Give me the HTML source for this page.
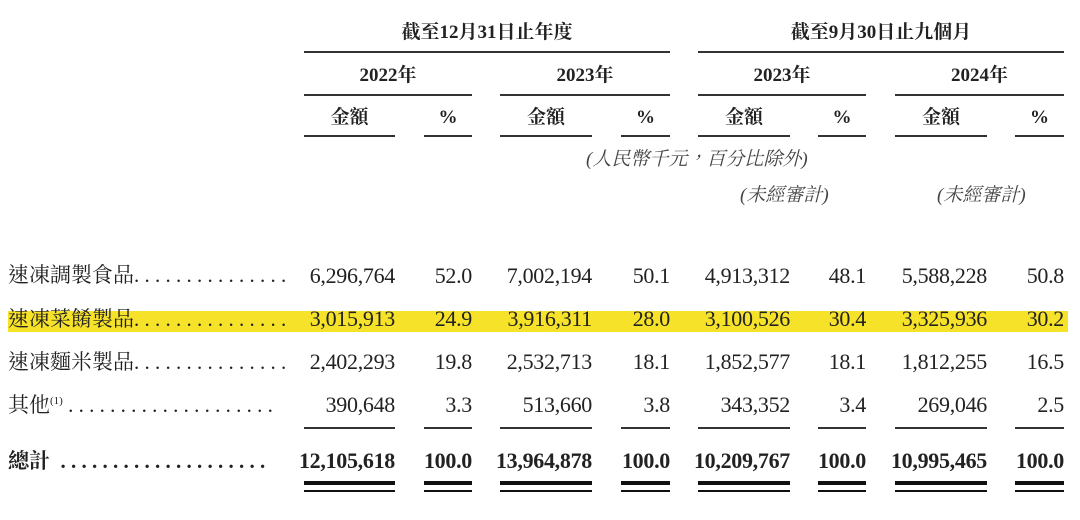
<!DOCTYPE html><html><head><meta charset="utf-8"><style>
body{margin:0;width:1080px;height:520px;background:#fff;position:relative;overflow:hidden;font-family:"Liberation Serif","Noto Serif CJK SC",serif;color:#222}
.t{position:absolute;white-space:nowrap;line-height:1}
.r{text-align:right}.c{text-align:center}
.l{position:absolute;background:#333;height:1.5px}
.b{font-weight:bold}
.h{font-family:"Liberation Serif","Noto Serif CJK TC",serif;font-size:19px}
.d{font-size:22px;letter-spacing:-0.3px}
.lab{font-size:21px;font-family:"Liberation Serif","Noto Serif CJK TC",serif}
</style></head><body>
<div style="position:absolute;left:8px;top:311px;width:1060px;height:21px;background:#f7e22a"></div>
<div class="t c h b" style="left:304px;width:366px;top:23px">截至12月31日止年度</div>
<div class="t c h b" style="left:698px;width:366px;top:23px">截至9月30日止九個月</div>
<div class="l" style="left:304px;width:366px;top:51px"></div>
<div class="l" style="left:698px;width:366px;top:51px"></div>
<div class="t c h b" style="left:304px;width:168px;top:66px">2022年</div>
<div class="t c h b" style="left:500px;width:170px;top:66px">2023年</div>
<div class="t c h b" style="left:698px;width:168px;top:66px">2023年</div>
<div class="t c h b" style="left:895px;width:169px;top:66px">2024年</div>
<div class="l" style="left:304px;width:168px;top:94px"></div>
<div class="l" style="left:500px;width:170px;top:94px"></div>
<div class="l" style="left:698px;width:168px;top:94px"></div>
<div class="l" style="left:895px;width:169px;top:94px"></div>
<div class="t c h b" style="left:304px;width:91px;top:108px">金額</div><div class="t c h b" style="left:424px;width:48px;top:108px">%</div>
<div class="t c h b" style="left:500px;width:92px;top:108px">金額</div><div class="t c h b" style="left:621px;width:49px;top:108px">%</div>
<div class="t c h b" style="left:698px;width:92px;top:108px">金額</div><div class="t c h b" style="left:818px;width:48px;top:108px">%</div>
<div class="t c h b" style="left:895px;width:92px;top:108px">金額</div><div class="t c h b" style="left:1015px;width:49px;top:108px">%</div>
<div class="l" style="left:304px;width:91px;top:135px"></div><div class="l" style="left:424px;width:48px;top:135px"></div>
<div class="l" style="left:500px;width:92px;top:135px"></div><div class="l" style="left:621px;width:49px;top:135px"></div>
<div class="l" style="left:698px;width:92px;top:135px"></div><div class="l" style="left:818px;width:48px;top:135px"></div>
<div class="l" style="left:895px;width:92px;top:135px"></div><div class="l" style="left:1015px;width:49px;top:135px"></div>
<div class="t h" style="left:586px;top:150px;font-style:italic;color:#444">(人民幣千元，百分比除外)</div>
<div class="t h" style="left:740px;top:186px;font-style:italic;color:#444">(未經審計)</div>
<div class="t h" style="left:937px;top:186px;font-style:italic;color:#444">(未經審計)</div>

<div class="t lab" style="left:8px;top:265px">速凍調製食品. . . . . . . . . . . . . . .</div>
<div class="t lab" style="left:8px;top:309px">速凍菜餚製品. . . . . . . . . . . . . . .</div>
<div class="t lab" style="left:8px;top:352px">速凍麵米製品. . . . . . . . . . . . . . .</div>
<div class="t lab" style="left:8px;top:395px">其他<sup style="font-size:11px">(1)</sup> . . . . . . . . . . . . . . . . . . . .</div>
<div class="t lab b" style="left:8px;top:451px">總計 &nbsp;. . . . . . . . . . . . . . . . . . . .</div>

<div id="rows"></div>
<script>
var cols=[[395,472],[592,670],[790,866],[987,1064]];
var data=[
["6,296,764","52.0","7,002,194","50.1","4,913,312","48.1","5,588,228","50.8"],
["3,015,913","24.9","3,916,311","28.0","3,100,526","30.4","3,325,936","30.2"],
["2,402,293","19.8","2,532,713","18.1","1,852,577","18.1","1,812,255","16.5"],
["390,648","3.3","513,660","3.8","343,352","3.4","269,046","2.5"],
["12,105,618","100.0","13,964,878","100.0","10,209,767","100.0","10,995,465","100.0"]];
var tops=[265,308,351,394,450],h="";
data.forEach(function(r,i){r.forEach(function(v,j){var x=cols[j>>1][j&1];
h+='<div class="t r d'+(i==4?' b':'')+'" style="left:'+(x-150)+'px;width:150px;top:'+tops[i]+'px">'+v+'</div>';});});
var lw=[[304,91],[424,48],[500,92],[621,49],[698,92],[818,48],[895,92],[1015,49]];
lw.forEach(function(a){h+='<div class="l" style="left:'+a[0]+'px;width:'+a[1]+'px;top:427px"></div>';
h+='<div class="l" style="left:'+a[0]+'px;width:'+a[1]+'px;top:481px;height:4px;background:#111"></div>';
h+='<div class="l" style="left:'+a[0]+'px;width:'+a[1]+'px;top:490px;height:2px;background:#111"></div>';});
document.getElementById('rows').innerHTML=h;
</script>
</body></html>
